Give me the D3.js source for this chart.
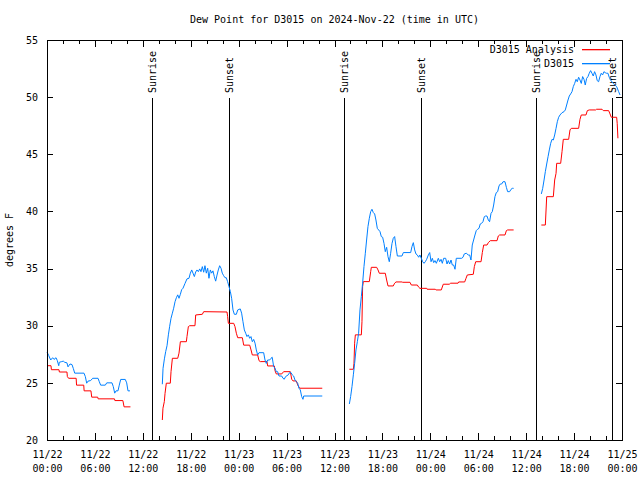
<!DOCTYPE html>
<html><head><meta charset="utf-8">
<script src="https://cdn.jsdelivr.net/npm/d3@7/dist/d3.min.js"></script>
<style>
body{margin:0;background:#fff;}
text{font-family:"DejaVu Sans Mono","Liberation Mono",monospace;font-size:10px;fill:#000;}
</style></head>
<body><svg id="c" width="640" height="480"></svg>
<script>
const titleText = "Dew Point for D3015 on 2024-Nov-22 (time in UTC)";
const yLabel = "degrees F";
const yTicks = [20,25,30,35,40,45,50,55];
const xMajorHours = [0,6,12,18,24,30,36,42,48,54,60,66,72];
const xTickDates = ["11/22","11/22","11/22","11/22","11/23","11/23","11/23","11/23","11/24","11/24","11/24","11/24","11/25"];
const xTickTimes = ["00:00","06:00","12:00","18:00","00:00","06:00","12:00","18:00","00:00","06:00","12:00","18:00","00:00"];
const sunriseHours = [13.15,37.19,61.23];
const sunsetHours = [22.79,46.83,70.75];
const seriesNames = ["D3015 Analysis","D3015"];
const seriesColors = ["#ff0000","#0080ff"];

// hours since 2024-11-22 00:00 UTC, dew point (F); null = gap
const analysisData = [
[0,26.5],[0.5,26.5],[0.55,26.15],[1.5,26.15],[1.55,25.95],[2.5,25.95],[2.55,25.55],[2.7,25.4],[3.65,25.4],[3.7,24.8],[4.6,24.8],[4.65,24.3],[5.5,24.3],[5.6,23.75],[6.35,23.75],[6.4,23.6],[8.45,23.6],[8.5,23.45],[9.5,23.45],[9.65,22.9],[10.45,22.9],
null,
[14.44,21.75],[14.52,22.78],[14.69,23.36],[14.78,24.08],[14.94,24.97],[15.44,24.97],[15.53,25.98],[15.7,27.15],[16.37,27.15],[16.53,27.6],[16.7,28.6],[17.45,28.6],[17.53,29.05],[17.7,29.92],[17.87,30.0],[18.53,30.0],[18.62,30.94],[19.45,31.0],[19.62,31.23],[22.54,31.2],[22.62,30.8],[22.71,30.21],[23.38,30.21],[23.54,29.92],[23.71,29.34],[23.88,28.95],[24.46,28.95],[24.63,28.3],[25.38,28.3],[25.55,27.88],[25.71,27.44],[26.38,27.44],[26.55,26.94],[26.71,26.86],[27.55,26.86],[27.63,26.48],[28.47,26.48],[28.55,26.07],[28.71,25.78],[29.39,25.78],[29.63,25.98],[30.47,25.98],[30.64,25.32],[30.8,25.17],[31.22,25.17],[31.39,24.82],[31.64,24.53],[34.47,24.53],
null,
[37.86,26.19],[38.36,26.19],[38.44,26.72],[38.52,28.47],[38.61,29.2],[39.36,29.2],[39.44,30.35],[39.52,33.42],[39.61,33.86],[40.36,33.86],[40.53,34.73],[40.61,35.11],[41.28,35.11],[41.45,34.88],[41.61,34.59],[42.36,34.59],[42.53,34.0],[42.7,33.48],[43.36,33.48],[43.53,33.72],[43.7,33.83],[44.45,33.83],[44.54,33.8],[45.45,33.8],[45.62,33.56],[46.37,33.56],[46.54,33.37],[46.7,33.27],[47.55,33.27],[47.6,33.19],[48.62,33.19],[48.7,33.13],[49.37,33.13],[49.62,33.63],[50.37,33.63],[50.55,33.72],[51.47,33.72],[51.55,33.83],[52.3,33.83],[52.47,34.15],[52.63,34.44],[53.38,34.5],[53.51,35.17],[53.68,35.6],[54.35,35.6],[54.51,36.4],[54.68,37.06],[55.1,37.06],[55.26,37.27],[55.51,37.44],[56.35,37.44],[56.51,37.85],[56.68,37.94],[57.35,37.94],[57.52,38.32],[57.68,38.38],[58.43,38.38],
null,
[61.9,38.81],[62.4,38.81],[62.57,41.29],[63.4,41.29],[63.57,42.75],[63.74,43.33],[63.82,44.21],[64.32,44.21],[64.49,45.23],[64.65,46.31],[65.32,46.31],[65.49,47.13],[65.65,47.27],[66.57,47.27],[66.74,48.06],[66.9,48.44],[67.49,48.44],[67.66,48.82],[67.9,48.88],[68.7,48.88],[68.82,48.94],[69.5,48.94],[69.66,48.82],[70.33,48.82],[70.5,48.53],[70.66,48.24],[71.33,48.24],[71.4,47.71],[71.49,46.4]
];

const stationData = [
[0,27.7],[0.21,27.4],[0.46,27.0],[0.71,27.2],[0.88,27.05],[1.13,27.2],[1.29,26.95],[1.47,26.5],[1.54,26.8],[1.79,26.85],[2.04,26.9],[2.22,26.8],[2.5,26.75],[2.63,26.4],[2.88,26.65],[3.13,26.6],[3.3,26.25],[3.47,25.85],[4.63,25.85],[4.8,25.55],[4.97,24.97],[5.13,25.15],[5.47,25.2],[5.72,25.4],[6.39,25.4],[6.55,25.1],[6.72,24.8],[7.3,24.8],[7.48,25.0],[8.14,25.0],[8.3,24.67],[8.48,24.1],[8.64,24.3],[8.89,24.3],[9.05,24.8],[9.23,25.3],[9.8,25.3],[9.98,25.0],[10.14,24.3],[10.39,24.3],
null,
[14.44,24.88],[14.53,26.27],[14.7,27.1],[14.86,27.73],[15.03,28.25],[15.2,29.2],[15.36,29.95],[15.53,30.65],[15.7,31.1],[15.86,31.53],[16.03,32.1],[16.2,32.45],[16.37,32.7],[16.53,32.4],[16.7,32.75],[16.86,33.15],[17.03,33.28],[17.28,33.7],[17.53,34.1],[17.78,34.15],[17.95,34.6],[18.12,34.88],[18.28,34.6],[18.45,34.3],[18.62,34.7],[18.78,34.88],[18.95,34.73],[19.12,34.97],[19.28,34.73],[19.45,35.17],[19.62,34.68],[19.78,35.25],[19.95,34.6],[20.12,35.03],[20.28,34.15],[20.45,34.88],[20.62,34.6],[20.78,34.8],[20.95,34.3],[21.12,33.9],[21.29,34.43],[21.45,34.88],[21.62,35.25],[21.79,35.03],[21.95,34.6],[22.12,34.38],[22.29,34.2],[22.45,34.2],[22.62,33.85],[22.79,33.42],[22.96,32.98],[23.12,32.4],[23.29,31.38],[23.46,31.0],[23.71,31.0],[23.88,31.38],[24.2,31.47],[24.37,31.1],[24.54,30.35],[24.71,29.63],[24.88,29.34],[25.04,29.05],[25.21,29.2],[25.38,28.9],[25.54,29.05],[25.71,28.6],[25.88,28.8],[26.05,28.47],[26.21,27.88],[26.38,27.44],[26.55,27.64],[27.13,27.64],[27.3,27.0],[27.46,26.7],[27.63,27.0],[27.88,27.0],[28.05,27.15],[28.2,27.24],[28.38,26.42],[28.55,26.28],[28.71,25.98],[28.88,25.98],[29.05,25.6],[29.39,25.6],[29.55,25.4],[29.71,25.32],[29.88,25.55],[30.21,25.7],[30.38,25.9],[30.55,25.9],[30.71,25.7],[30.88,25.6],[31.05,25.25],[31.22,25.1],[31.39,24.97],[31.55,24.53],[31.72,24.38],[31.89,23.8],[32.05,23.56],[32.14,23.85],[34.47,23.85],
null,
[37.86,23.15],[38.02,23.8],[38.19,24.67],[38.36,25.7],[38.52,26.7],[38.69,27.88],[38.86,28.6],[39.02,29.34],[39.19,31.38],[39.36,32.55],[39.52,33.72],[39.69,35.17],[39.86,36.34],[40.02,37.5],[40.19,38.67],[40.36,39.4],[40.53,39.98],[40.69,40.19],[40.86,39.9],[41.03,39.78],[41.19,39.25],[41.36,38.52],[41.53,38.38],[41.7,38.23],[41.86,37.8],[42.03,37.74],[42.2,37.2],[42.36,36.48],[42.53,36.86],[42.7,36.04],[42.86,35.6],[43.03,36.34],[43.2,37.2],[43.36,37.65],[43.53,37.8],[43.7,36.92],[43.87,36.1],[44.45,36.1],[44.62,36.4],[45.54,36.4],[45.7,36.92],[45.87,37.27],[46.04,36.63],[46.2,36.28],[46.37,36.19],[46.54,35.99],[46.7,36.19],[46.87,35.9],[47.04,35.6],[47.21,35.46],[47.37,35.6],[47.54,35.81],[47.75,36.19],[47.92,36.4],[48.09,35.6],[48.25,35.9],[48.42,35.52],[48.58,35.7],[48.75,35.46],[49.0,35.9],[49.17,35.6],[49.34,35.81],[49.5,35.46],[49.67,35.9],[49.92,35.9],[50.09,35.4],[50.25,35.7],[50.42,35.4],[50.59,35.75],[50.75,35.31],[50.92,35.31],[51.09,34.94],[51.25,35.9],[51.92,35.9],[52.09,35.99],[52.25,36.28],[52.5,36.34],[52.75,36.19],[52.92,36.19],[53.09,35.75],[53.25,37.06],[53.42,37.5],[53.59,37.94],[53.75,38.32],[53.92,38.44],[54.09,38.52],[54.25,38.9],[54.42,38.96],[54.59,39.1],[54.76,39.54],[54.92,39.6],[55.09,39.6],[55.26,39.25],[55.42,39.1],[55.6,39.83],[55.76,39.98],[55.93,40.56],[56.09,41.29],[56.26,41.65],[56.43,41.73],[56.6,42.23],[56.76,42.4],[56.93,42.4],[57.1,42.6],[57.35,42.6],[57.52,42.11],[57.68,41.73],[57.93,41.73],[58.1,41.93],[58.26,42.02],[58.43,42.02],
null,
[61.9,41.53],[62.07,42.02],[62.24,42.75],[62.4,43.48],[62.57,44.15],[62.74,44.79],[62.9,45.38],[63.07,45.96],[63.24,46.31],[63.4,46.25],[63.57,46.69],[63.74,47.27],[63.9,47.85],[64.07,48.24],[64.24,48.44],[64.49,48.64],[64.74,48.73],[64.9,48.88],[65.07,49.31],[65.24,49.75],[65.4,50.1],[65.57,50.28],[65.74,50.48],[65.9,50.92],[66.07,51.2],[66.24,51.56],[66.4,51.35],[66.57,51.74],[66.74,51.5],[66.9,51.2],[67.07,51.8],[67.24,51.56],[67.4,51.06],[67.57,51.64],[67.74,51.8],[67.9,52.09],[68.07,52.32],[68.24,52.09],[68.4,51.85],[68.57,52.23],[68.74,51.94],[68.9,51.44],[69.07,51.35],[69.24,51.8],[69.4,52.09],[69.57,51.94],[69.74,52.23],[69.9,52.14],[70.07,52.09],[70.24,52.09],[70.4,51.74],[70.57,51.5],[70.9,51.2],[71.33,50.92],[71.58,50.48],[71.75,50.19]
];

const L=47, R=622, T=40, B=440;
const svg = d3.select("#c");
const x = d3.scaleLinear().domain([0,72]).range([L,R]);
const y = d3.scaleLinear().domain([20,55]).range([B,T]);
const minorHours = d3.range(0,73,2).filter(h=>h%6!==0);

// title
svg.append("text").attr("x",(L+R)/2).attr("y",23).attr("text-anchor","middle").text(titleText);
// y label
svg.append("text").attr("transform",`translate(13,${(T+B)/2}) rotate(-90)`).attr("text-anchor","middle").text(yLabel);

function styleAxis(g){ g.select(".domain").remove(); g.selectAll("line").attr("stroke","#000").attr("shape-rendering","crispEdges"); }

// bottom
const gb = svg.append("g").attr("transform",`translate(0,${B})`);
gb.call(d3.axisBottom(x).tickValues(xMajorHours).tickSizeInner(-7).tickSizeOuter(0).tickPadding(10).tickFormat(""));
gb.append("g").call(d3.axisBottom(x).tickValues(minorHours).tickSizeInner(-4).tickSizeOuter(0).tickFormat("")).call(styleAxis);
styleAxis(gb);
gb.selectAll(".tick").filter(d=>xMajorHours.includes(d)).each(function(d){
  const i = xMajorHours.indexOf(d);
  const t = d3.select(this).append("text").attr("y",0).attr("text-anchor","middle");
  t.append("tspan").attr("x",0).attr("y",18).text(xTickDates[i]);
  t.append("tspan").attr("x",0).attr("y",32).text(xTickTimes[i]);
});
// top
const gt = svg.append("g").attr("transform",`translate(0,${T})`);
gt.call(d3.axisTop(x).tickValues(xMajorHours).tickSizeInner(-7).tickSizeOuter(0).tickFormat(""));
gt.append("g").call(d3.axisTop(x).tickValues(minorHours).tickSizeInner(-4).tickSizeOuter(0).tickFormat("")).call(styleAxis);
styleAxis(gt);
// left
const gl = svg.append("g").attr("transform",`translate(${L},0)`);
gl.call(d3.axisLeft(y).tickValues(yTicks).tickSizeInner(-6).tickSizeOuter(0).tickPadding(9).tickFormat(d=>d));
styleAxis(gl);
gl.selectAll(".tick text").attr("font-size","11px").attr("font-family","'DejaVu Sans Mono',monospace");
// right
const gr = svg.append("g").attr("transform",`translate(${R},0)`);
gr.call(d3.axisRight(y).tickValues(yTicks).tickSizeInner(-6).tickSizeOuter(0).tickFormat(""));
styleAxis(gr);

// sunrise / sunset lines
const events = sunriseHours.map(h=>({h,label:"Sunrise"})).concat(sunsetHours.map(h=>({h,label:"Sunset"})));
const eg = svg.append("g");
events.forEach(e=>{
  const px = Math.round(x(e.h))+0.5;
  eg.append("line").attr("x1",px).attr("x2",px).attr("y1",98).attr("y2",B).attr("stroke","#000").attr("stroke-width",1).attr("shape-rendering","crispEdges");
  eg.append("text").attr("transform",`translate(${px},93) rotate(-90)`).attr("dy","0.35em").attr("text-anchor","start").text(e.label);
});

// series
const line = d3.line().defined(d=>d!==null).x(d=>x(d[0])).y(d=>y(d[1]));
svg.append("path").datum(analysisData).attr("d",line).attr("fill","none").attr("stroke",seriesColors[0]).attr("stroke-width",1);
svg.append("path").datum(stationData).attr("d",line).attr("fill","none").attr("stroke",seriesColors[1]).attr("stroke-width",1);

// frame
svg.append("rect").attr("x",L+0.5).attr("y",T+0.5).attr("width",R-L).attr("height",B-T)
  .attr("fill","none").attr("stroke","#000").attr("shape-rendering","crispEdges");

// legend
seriesNames.forEach((n,i)=>{
  const ly = 49 + i*14;
  svg.append("text").attr("x",574).attr("y",ly).attr("dy","0.35em").attr("text-anchor","end").text(n);
  svg.append("rect").attr("x",582).attr("y",ly).attr("width",28).attr("height",1.3).attr("fill",seriesColors[i]);
});
</script></body></html>
